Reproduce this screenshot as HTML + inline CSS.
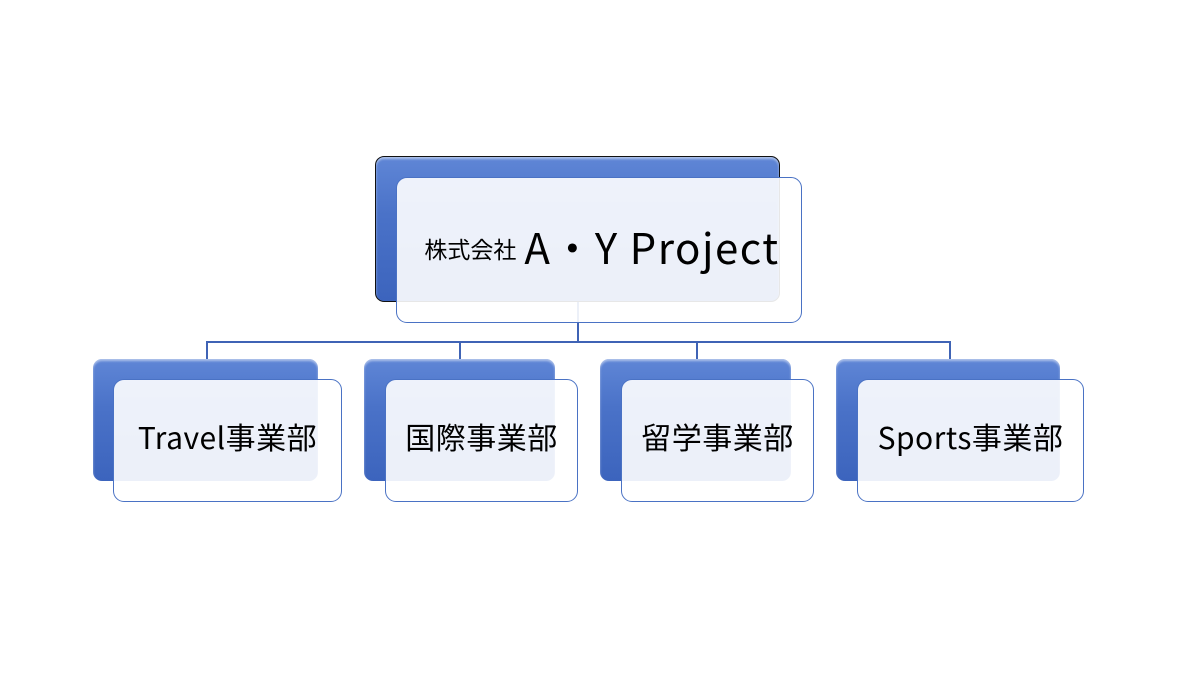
<!DOCTYPE html>
<html><head><meta charset="utf-8"><style>
body{margin:0;width:1200px;height:675px;background:#fff;position:relative;overflow:hidden;font-family:"Noto Sans CJK JP","Liberation Sans",sans-serif}
.b{position:absolute;background:linear-gradient(#5f86d6,#4a72c8 40%,#3c64bd);border-radius:9px;box-shadow:inset 0 2px 2px rgba(255,255,255,.5)}
.f{position:absolute;background:rgba(255,255,255,.9);border:1.5px solid #4a72c4;border-radius:11px;box-sizing:border-box;display:flex;align-items:center;justify-content:center;color:#000;white-space:nowrap;line-height:1}
.l{position:absolute;background:#3f63b5}
.c{font-size:30px;padding-bottom:10px;letter-spacing:0.5px}
</style></head><body>
<div class="l" style="left:577px;top:300px;width:1.5px;height:41px"></div>
<div class="l" style="left:206px;top:341px;width:744px;height:1.5px"></div>
<div class="l" style="left:206px;top:341px;width:1.5px;height:20px"></div>
<div class="l" style="left:459px;top:341px;width:1.5px;height:20px"></div>
<div class="l" style="left:696px;top:341px;width:1.5px;height:20px"></div>
<div class="l" style="left:949px;top:341px;width:1.5px;height:20px"></div>

<div class="b" style="left:375px;top:156px;width:405px;height:146px;border:1.5px solid #111;box-sizing:border-box"></div>
<div class="f" style="left:396px;top:177px;width:406px;height:146px;padding-bottom:58px;padding-left:6px;align-items:flex-end"><span style="font-size:23px;margin-right:8px;margin-bottom:4px">株式会社</span><span style="font-size:42px;letter-spacing:1.5px;margin-bottom:-4px">A・Y Project</span></div>

<div class="b" style="left:93px;top:359px;width:225px;height:122px"></div>
<div class="f c" style="left:113px;top:379px;width:229px;height:123px">Travel事業部</div>
<div class="b" style="left:364px;top:359px;width:191px;height:122px"></div>
<div class="f c" style="left:385px;top:379px;width:193px;height:123px">国際事業部</div>
<div class="b" style="left:600px;top:359px;width:191px;height:122px"></div>
<div class="f c" style="left:621px;top:379px;width:193px;height:123px">留学事業部</div>
<div class="b" style="left:836px;top:359px;width:224px;height:122px"></div>
<div class="f c" style="left:857px;top:379px;width:227px;height:123px">Sports事業部</div>
</body></html>
